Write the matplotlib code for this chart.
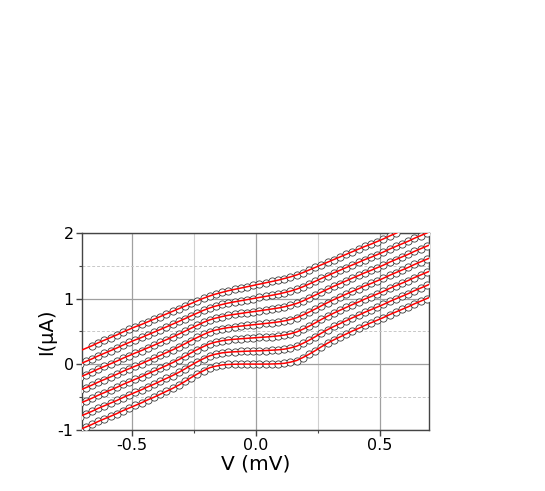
import numpy as np
import matplotlib
matplotlib.use('Agg')
import matplotlib.pyplot as plt
from matplotlib.ticker import MultipleLocator

plt.rcParams['font.family'] = ['DejaVu Sans']
plt.rcParams['axes.unicode_minus'] = False

# Voltaje de barrido (mV)
V = np.linspace(-0.71, 0.715, 58)

# Curvas I-V desplazadas 0.2 uA
I0 = [-1.0, -0.96, -0.92, -0.875, -0.835, -0.795, -0.755, -0.71, -0.67, -0.63,
      -0.59, -0.545, -0.505, -0.46, -0.415, -0.37, -0.32, -0.265, -0.205, -0.15,
      -0.10, -0.055, -0.03, -0.012, -0.005, -0.002, 0.0, 0.0,
      0.0, 0.0, 0.0, 0.002, 0.005, 0.012, 0.03, 0.055, 0.10, 0.15,
      0.205, 0.265, 0.32, 0.37, 0.415, 0.46, 0.505, 0.545, 0.59, 0.63,
      0.67, 0.71, 0.755, 0.795, 0.835, 0.875, 0.92, 0.96, 1.0, 1.04]
I1 = [-0.8, -0.76, -0.72, -0.675, -0.635, -0.595, -0.555, -0.51, -0.47, -0.43,
      -0.391, -0.347, -0.307, -0.262, -0.218, -0.174, -0.126, -0.073, -0.017, 0.036,
      0.084, 0.127, 0.153, 0.172, 0.182, 0.188, 0.193, 0.197,
      0.2, 0.203, 0.207, 0.212, 0.218, 0.228, 0.247, 0.273, 0.316, 0.364,
      0.417, 0.473, 0.526, 0.574, 0.618, 0.662, 0.707, 0.747, 0.791, 0.83,
      0.87, 0.91, 0.955, 0.995, 1.035, 1.075, 1.12, 1.16, 1.2, 1.24]
I2 = [-0.6, -0.56, -0.52, -0.475, -0.435, -0.395, -0.355, -0.31, -0.27, -0.23,
      -0.192, -0.148, -0.108, -0.065, -0.022, 0.022, 0.068, 0.118, 0.172, 0.222,
      0.268, 0.31, 0.337, 0.357, 0.37, 0.379, 0.387, 0.393,
      0.4, 0.407, 0.413, 0.421, 0.43, 0.443, 0.463, 0.49, 0.532, 0.578,
      0.628, 0.682, 0.732, 0.778, 0.822, 0.865, 0.908, 0.948, 0.992, 1.03,
      1.07, 1.11, 1.155, 1.195, 1.235, 1.275, 1.32, 1.36, 1.4, 1.44]
I3 = [-0.4, -0.36, -0.32, -0.275, -0.235, -0.195, -0.155, -0.11, -0.07, -0.03,
      0.007, 0.05, 0.09, 0.132, 0.175, 0.217, 0.262, 0.31, 0.36, 0.407,
      0.452, 0.492, 0.52, 0.541, 0.557, 0.569, 0.58, 0.59,
      0.6, 0.61, 0.62, 0.631, 0.643, 0.659, 0.68, 0.708, 0.748, 0.793,
      0.84, 0.89, 0.938, 0.983, 1.025, 1.068, 1.11, 1.15, 1.193, 1.23,
      1.27, 1.31, 1.355, 1.395, 1.435, 1.475, 1.52, 1.56, 1.6, 1.64]
I4 = [-0.2, -0.16, -0.12, -0.075, -0.035, 0.005, 0.045, 0.09, 0.13, 0.17,
      0.207, 0.248, 0.288, 0.33, 0.372, 0.413, 0.457, 0.502, 0.548, 0.593,
      0.637, 0.675, 0.703, 0.726, 0.745, 0.759, 0.773, 0.787,
      0.8, 0.813, 0.827, 0.841, 0.855, 0.874, 0.897, 0.925, 0.963, 1.007,
      1.052, 1.098, 1.143, 1.187, 1.228, 1.27, 1.312, 1.352, 1.393, 1.43,
      1.47, 1.51, 1.555, 1.595, 1.635, 1.675, 1.72, 1.76, 1.8, 1.84]
I5 = [0.0, 0.04, 0.08, 0.125, 0.165, 0.205, 0.245, 0.29, 0.33, 0.37,
      0.406, 0.447, 0.487, 0.527, 0.568, 0.609, 0.651, 0.693, 0.737, 0.779,
      0.821, 0.857, 0.887, 0.91, 0.932, 0.95, 0.967, 0.983,
      1.0, 1.017, 1.033, 1.05, 1.068, 1.09, 1.113, 1.143, 1.179, 1.221,
      1.263, 1.307, 1.349, 1.391, 1.432, 1.473, 1.513, 1.553, 1.594, 1.63,
      1.67, 1.71, 1.755, 1.795, 1.835, 1.875, 1.92, 1.96, 2.0, 2.04]
I6 = [0.2, 0.24, 0.28, 0.325, 0.365, 0.405, 0.445, 0.49, 0.53, 0.57,
      0.605, 0.645, 0.685, 0.725, 0.765, 0.805, 0.845, 0.885, 0.925, 0.965,
      1.005, 1.04, 1.07, 1.095, 1.12, 1.14, 1.16, 1.18,
      1.2, 1.22, 1.24, 1.26, 1.28, 1.305, 1.33, 1.36, 1.395, 1.435,
      1.475, 1.515, 1.555, 1.595, 1.635, 1.675, 1.715, 1.755, 1.795, 1.83,
      1.87, 1.91, 1.955, 1.995, 2.035, 2.075, 2.12, 2.16, 2.2, 2.24]
curvas = [I0, I1, I2, I3, I4, I5, I6]

xticks = [-0.5, 0.0, 0.5]
yticks = [-1, 0, 1, 2]

fig = plt.figure(figsize=(5.45, 4.91), dpi=100)
ax = fig.add_axes([0.1505, 0.1249, 0.6373, 0.4006])

for k, I in enumerate(curvas):
    I = np.array(I)
    if k == len(curvas) - 1:
        # la curva de arriba: datos entre -0.65 y ~0.58 mV
        m = (np.arange(len(V)) >= 2) & (I <= 2.0)
    else:
        m = np.ones(len(V), bool)
    ax.plot(V[m], I[m], 'o', ms=5.2, mfc='white', mec='#3c3c3c', mew=0.6, zorder=3)
    ax.plot(V, I, '-', color='#ff0000', lw=1.1, zorder=4)

ax.set_xlim(-0.7, 0.7)
ax.set_ylim(-1, 2)
ax.set_xticks(xticks)
ax.set_xticklabels(['-0.5', '0.0', '0.5'])
ax.set_yticks(yticks)
ax.xaxis.set_minor_locator(MultipleLocator(0.25))
ax.yaxis.set_minor_locator(MultipleLocator(0.5))

# rejilla
ax.grid(which='major', color='#a0a0a0', lw=0.9, ls='-', zorder=0)
ax.grid(which='minor', axis='x', color='#d0d0d0', lw=0.8, ls='-', zorder=0)
ax.grid(which='minor', axis='y', color='#c8c8c8', lw=0.7, ls=(0, (3, 2)), zorder=0)

for s in ax.spines.values():
    s.set_color('#444444')
    s.set_linewidth(1.0)
ax.tick_params(which='major', direction='out', length=4, width=1, color='#444444',
               labelsize=11.5, pad=2)
ax.tick_params(which='minor', direction='out', length=2.5, width=0.8, color='#444444')

ax.set_xlabel('V (mV)', fontsize=14.5, labelpad=1)
ax.set_ylabel('I(\u03bcA)', fontsize=14, labelpad=1)

fig.savefig('out.png', dpi=100)
